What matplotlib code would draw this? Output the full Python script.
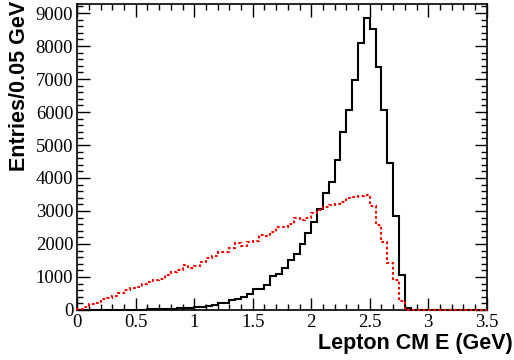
import numpy as np
import matplotlib
matplotlib.use("Agg")
import matplotlib.pyplot as plt
from matplotlib.ticker import MultipleLocator

# Histogram: Lepton CM energy, 70 bins of 0.05 GeV from 0 to 3.5
x_min, x_max, bin_width = 0.0, 3.5, 0.05

black_counts = [
    0, 0, 0, 0, 0, 0, 3, 5, 8, 10,
    12, 15, 20, 25, 30, 35, 45, 50, 60, 70,
    90, 100, 120, 150, 210, 225, 300, 335, 385, 475,
    640, 645, 770, 1030, 1090, 1265, 1530, 1710, 2010, 2320,
    2675, 3060, 3535, 3890, 4545, 5400, 6060, 6970, 8100, 8840,
    8515, 7370, 6060, 4445, 2860, 1060, 75, 0, 0, 0,
    0, 0, 0, 0, 0, 0, 0, 0, 0, 0,
]

red_counts = [
    30, 90, 170, 200, 330, 370, 420, 500, 600, 660,
    700, 800, 840, 910, 950, 1060, 1150, 1220, 1360, 1270,
    1330, 1460, 1585, 1630, 1765, 1765, 1870, 2040, 1930, 2070,
    2100, 2270, 2240, 2370, 2525, 2525, 2600, 2800, 2720, 2780,
    2930, 3030, 3130, 3180, 3210, 3280, 3385, 3430, 3460, 3485,
    3160, 2575, 2050, 1415, 920, 270, 0, 0, 0, 0,
    0, 0, 0, 0, 0, 0, 0, 0, 0, 0,
]

x_label = "Lepton CM E (GeV)"
y_label = "Entries/0.05 GeV"

n_bins = len(black_counts)
edges = np.linspace(x_min, x_max, n_bins + 1)

fig = plt.figure(figsize=(5.14, 3.6), dpi=100)
ax = fig.add_axes([0.1504, 0.1389, 0.7965, 0.85])

ax.stairs(black_counts, edges, color="black", linewidth=1.5,
          baseline=0, clip_on=False, zorder=3)
ax.stairs(red_counts, edges, color="red", linewidth=1.5,
          linestyle=(0, (1.3, 1.2)), baseline=0, clip_on=False, zorder=4)

ax.set_xlim(x_min, x_max)
ax.set_ylim(0, 9273)

ax.xaxis.set_major_locator(MultipleLocator(0.5))
ax.xaxis.set_minor_locator(MultipleLocator(0.1))
ax.yaxis.set_major_locator(MultipleLocator(1000))
ax.yaxis.set_minor_locator(MultipleLocator(200))
ax.set_xticks([0, 0.5, 1, 1.5, 2, 2.5, 3, 3.5])
ax.set_xticklabels(["0", "0.5", "1", "1.5", "2", "2.5", "3", "3.5"])

ax.tick_params(which="both", direction="in", top=True, right=True,
               width=1.0, colors="black")
ax.tick_params(which="major", length=9)
ax.tick_params(which="minor", length=4.5)
ax.tick_params(axis="both", labelsize=13.5, pad=3)
for lab in ax.get_xticklabels() + ax.get_yticklabels():
    lab.set_fontfamily("Liberation Serif")

for sp in ax.spines.values():
    sp.set_linewidth(1.2)

fig.text(0.998, 0.018, x_label, ha="right", va="bottom",
         fontsize=15.5, fontweight="bold", family="Liberation Sans")
fig.text(0.018, 0.998, y_label, ha="left", va="top", rotation=90,
         fontsize=15.5, fontweight="bold", family="Liberation Sans")

fig.savefig("out.png", dpi=100)
